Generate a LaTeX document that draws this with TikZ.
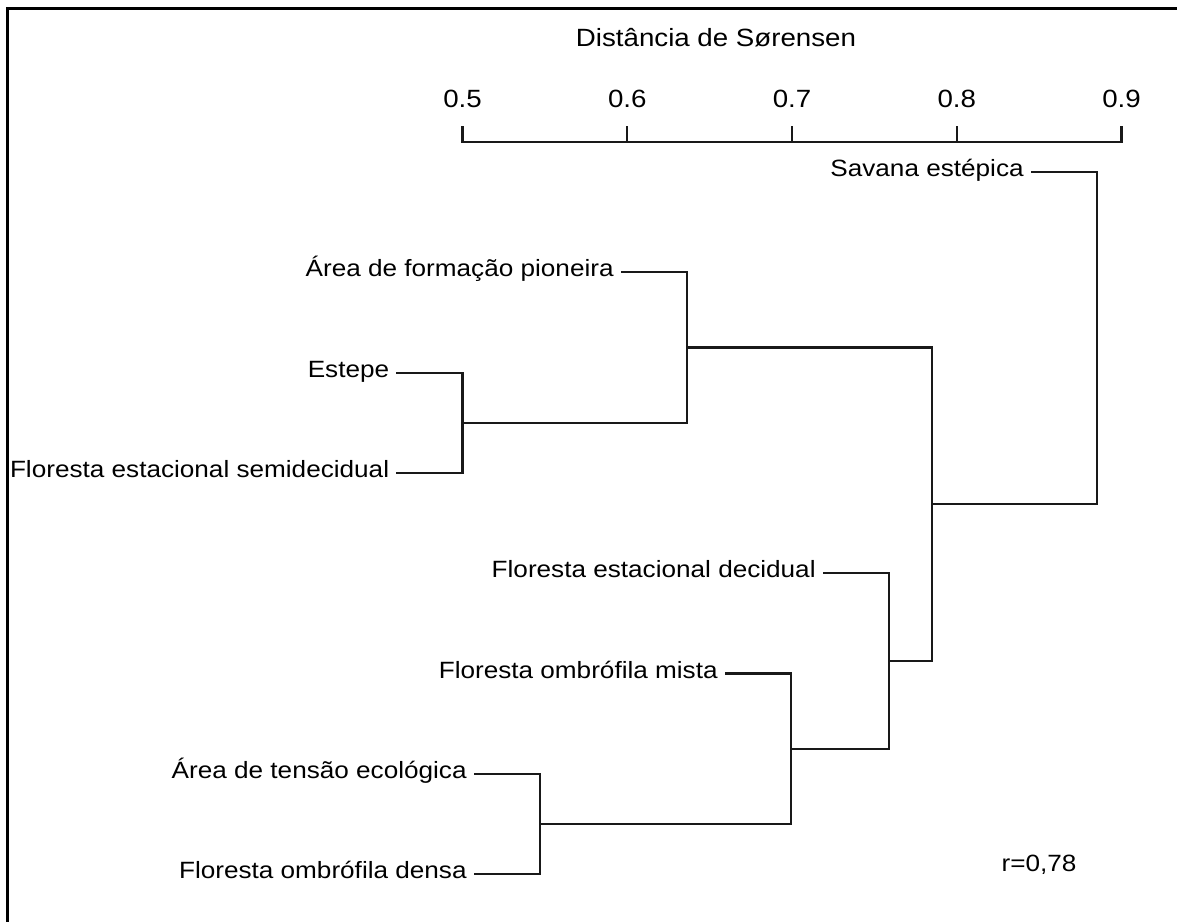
\documentclass[tikz,border=0pt]{standalone}
\usepackage{fontspec}
\setmainfont{Liberation Sans}[FakeStretch=1.11]
\usetikzlibrary{positioning}
\begin{document}
\begin{tikzpicture}[x=0.02cm,y=-0.02cm,line cap=rect]
  \tikzset{leaf/.style={anchor=mid east,inner xsep=0.16cm,inner ysep=0,font=\fontsize{13.4pt}{16pt}\selectfont},
    axtxt/.style={anchor=mid,inner sep=0,font=\fontsize{14.2pt}{17pt}\selectfont},
    link/.style={draw=black!90,line width=1.2pt}}
  \useasboundingbox (0,0) rectangle (1177,921);
  \draw[line width=1.6pt] (7.5,921) -- (7.5,8.5) -- (1177,8.5);
  \node[axtxt] (ttl) at (716,41.5) {Distância de Sørensen};
  \foreach \v [count=\i from 0] in {0.5,0.6,0.7,0.8,0.9}{
    \coordinate (t\i) at ({462.5+164.75*\i},142);
    \draw[link] (t\i) -- ++(0,-15);
    \node[axtxt] (l\i) at ({462.5+164.75*\i},102.5) {\v};}
  \draw[link] (t0) -- (t4);
  \node[leaf] (sav) at (1032,172) {Savana estépica};\node[leaf] (afp) at (622,272.3) {Área de formação pioneira};
  \node[leaf] (est) at (397.5,372.6) {Estepe};\node[leaf] (fes) at (397.5,472.9) {Floresta estacional semidecidual};
  \node[leaf] (fed) at (824,573.2) {Floresta estacional decidual};\node[leaf] (fom) at (726,673.5) {Floresta ombrófila mista};
  \node[leaf] (ate) at (475,773.8) {Área de tensão ecológica};\node[leaf] (fod) at (475,874.1) {Floresta ombrófila densa};
  \coordinate (m1) at (462.5,422.75);\coordinate (m2) at (540,824);\coordinate (m3) at (687,347.5);\coordinate (m4) at (791,748.75);
  \coordinate (m5) at (889,661);\coordinate (m6) at (932,504.25);\coordinate (m7) at (1097,338.1);
  \draw[link] (est.mid east) -| (m1) |- (fes.mid east);
  \draw[link] (afp.mid east) -| (m3) |- (m1);
  \draw[link] (ate.mid east) -| (m2) |- (fod.mid east);
  \draw[link] (fom.mid east) -| (m4) |- (m2);
  \draw[link] (fed.mid east) -| (m5) |- (m4);
  \draw[link] (m3) -| (m6) |- (m5);
  \draw[link] (sav.mid east) -| (m7) |- (m6);
  \node[leaf,anchor=mid,inner xsep=0] (rr) at (1039,866.5) {r=0,78};
\end{tikzpicture}
\end{document}
